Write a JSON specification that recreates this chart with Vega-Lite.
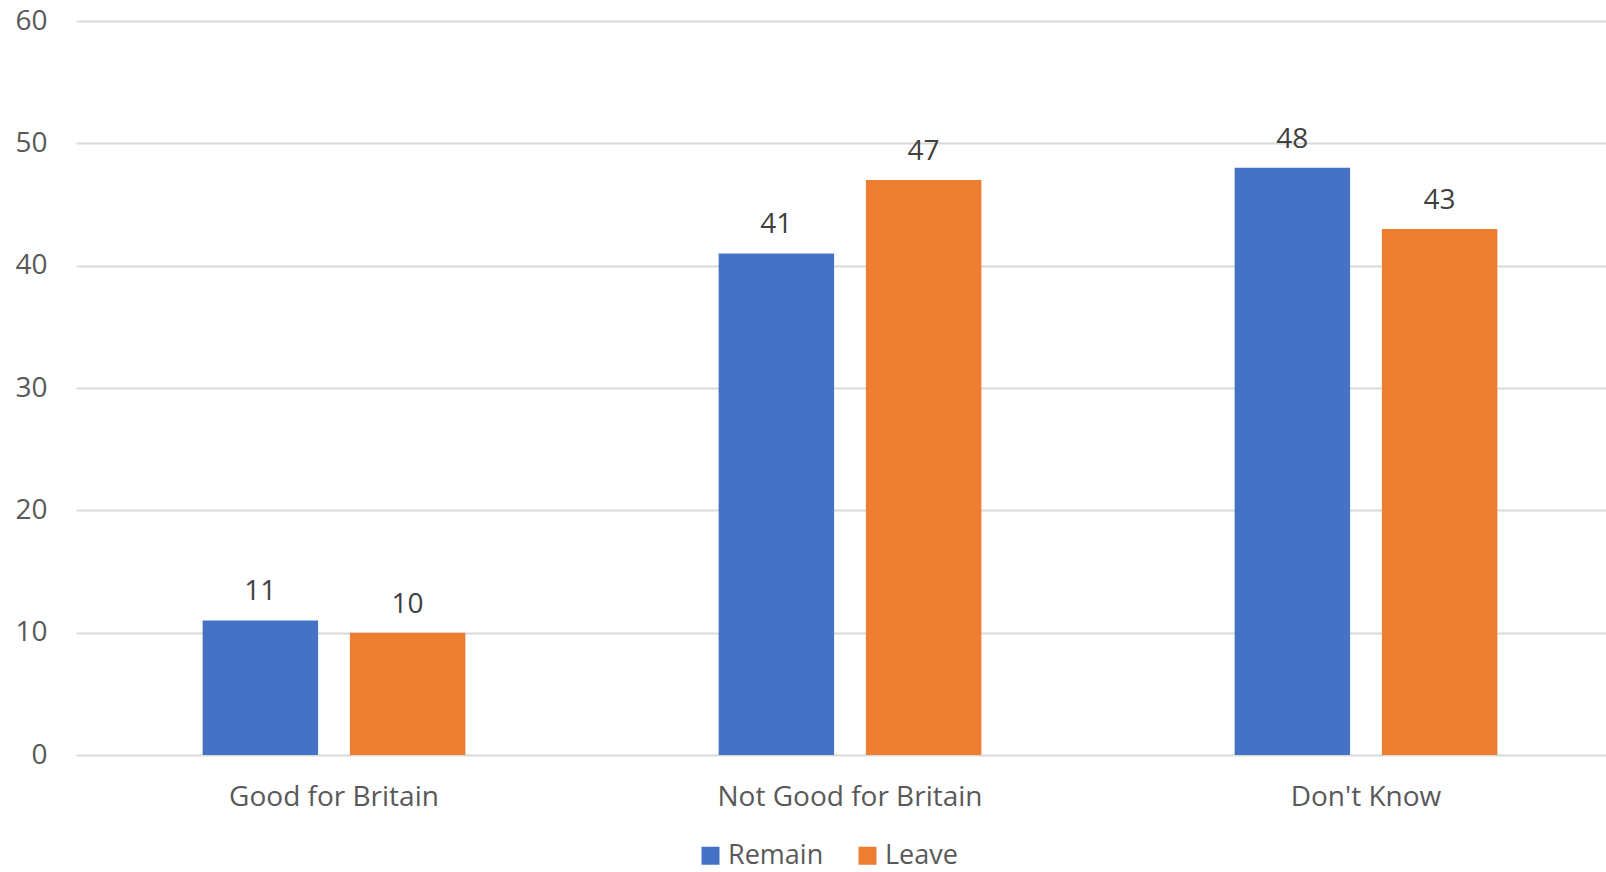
{
  "$schema": "https://vega.github.io/schema/vega-lite/v6.json",
  "width": 1530,
  "height": 734,
  "autosize": {"type": "none"},
  "padding": {"left": 76, "top": 21, "right": 0, "bottom": 117},
  "background": "white",
  "config": {
    "view": {"stroke": null},
    "font": "Open Sans"
  },
  "data": {
    "values": [
      {"category": "Good for Britain", "group": "Remain", "value": 11},
      {"category": "Good for Britain", "group": "Leave", "value": 10},
      {"category": "Not Good for Britain", "group": "Remain", "value": 41},
      {"category": "Not Good for Britain", "group": "Leave", "value": 47},
      {"category": "Don't Know", "group": "Remain", "value": 48},
      {"category": "Don't Know", "group": "Leave", "value": 43}
    ]
  },
  "encoding": {
    "x": {
      "field": "category",
      "type": "nominal",
      "sort": ["Good for Britain", "Not Good for Britain", "Don't Know"],
      "scale": {"range": [0, 1548], "paddingInner": 0, "paddingOuter": 0},
      "axis": {
        "title": null,
        "labelAngle": 0,
        "labelFontSize": 28,
        "labelColor": "#595959",
        "labelFont": "Open Sans",
        "labelBaseline": "alphabetic",
        "labelPadding": 50,
        "labelLimit": 0,
        "ticks": false,
        "tickSize": 0,
        "domain": false,
        "grid": false
      }
    },
    "xOffset": {
      "field": "group",
      "type": "nominal",
      "sort": ["Remain", "Leave"],
      "scale": {"paddingInner": 0.216, "paddingOuter": 0.86}
    },
    "y": {
      "field": "value",
      "type": "quantitative",
      "scale": {"domain": [0, 60], "nice": false},
      "axis": {
        "title": null,
        "values": [0, 10, 20, 30, 40, 50, 60],
        "labelFontSize": 28,
        "labelColor": "#595959",
        "labelFont": "Open Sans",
        "labelPadding": 29,
        "ticks": false,
        "tickSize": 0,
        "domain": false,
        "grid": true,
        "gridColor": "#d9d9d9",
        "gridWidth": 2
      }
    }
  },
  "layer": [
    {
      "mark": {"type": "bar"},
      "encoding": {
        "color": {
          "field": "group",
          "type": "nominal",
          "sort": ["Remain", "Leave"],
          "scale": {"domain": ["Remain", "Leave"], "range": ["#4472C4", "#ED7D31"]},
          "legend": {
            "title": null,
            "orient": "none",
            "direction": "horizontal",
            "legendX": 621,
            "legendY": 821,
            "symbolType": "square",
            "symbolSize": 324,
            "symbolStrokeWidth": 0,
            "labelFontSize": 27,
            "labelColor": "#595959",
            "labelFont": "Open Sans",
            "labelOffset": 4,
            "columnPadding": 30
          }
        }
      }
    },
    {
      "mark": {
        "type": "text",
        "baseline": "alphabetic",
        "align": "center",
        "dy": -20,
        "fontSize": 28,
        "color": "#404040",
        "font": "Open Sans"
      },
      "encoding": {
        "text": {"field": "value", "type": "quantitative"}
      }
    }
  ]
}
